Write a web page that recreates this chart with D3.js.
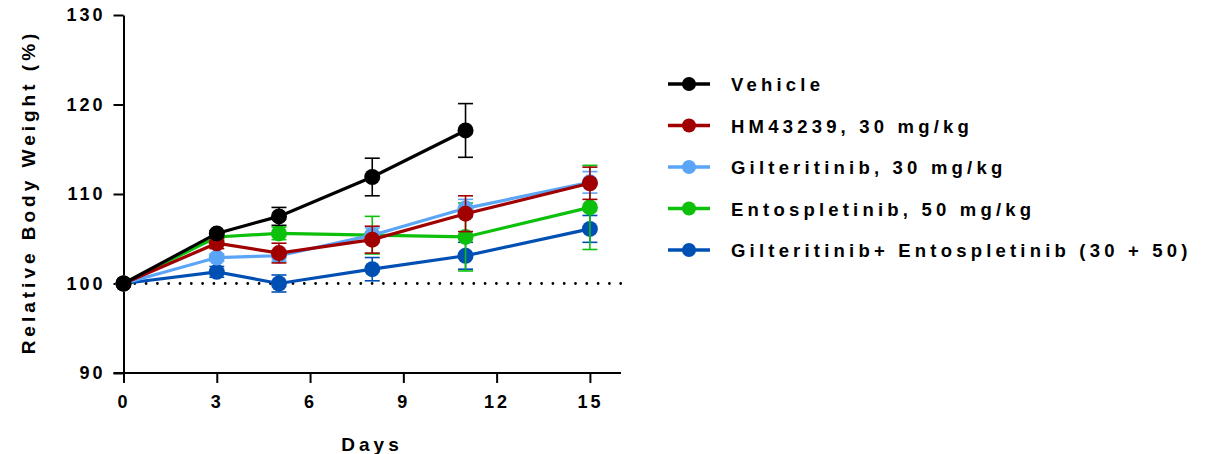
<!DOCTYPE html>
<html lang="en">
<head>
  <meta charset="UTF-8">
  <title>Relative Body Weight</title>
  <style>
    body { margin: 0; background: #fff; }
    text { font-family: Arial, "Liberation Sans", sans-serif; font-weight: bold; fill: #000; }
  </style>
</head>
<body>
  <svg id="chart" width="1206" height="454"></svg>
  <script src="https://cdn.jsdelivr.net/npm/d3@7/dist/d3.min.js"></script>
  <script>
    // data (mean, sem)
    var days = [0, 3, 5, 8, 11, 15];
    var names = ['Vehicle', 'HM43239, 30 mg/kg', 'Gilteritinib, 30 mg/kg',
      'Entospletinib, 50 mg/kg', 'Gilteritinib+ Entospletinib (30 + 50)'];
    var colors = ['#000000', '#a00000', '#5ba5f7', '#0cc00c', '#0050b4'];
    var vehicle = [100, 105.6, 107.5, 111.9, 117.1, null];
    var vehicleErr = [0, 0.3, 1.0, 2.1, 3.0, null];
    var hm = [100, 104.5, 103.4, 104.9, 107.8, 111.2];
    var hmErr = [0, 0.6, 1.1, 1.5, 2.0, 1.8];
    var gilt = [100, 102.9, 103.1, 105.4, 108.4, 111.3];
    var giltErr = [0, 0.4, 0.6, 0.8, 1.0, 1.2];
    var ento = [100, 105.2, 105.6, 105.4, 105.2, 108.5];
    var entoErr = [0, 0.4, 0.7, 2.1, 3.8, 4.7];
    var combo = [100, 101.3, 100.0, 101.6, 103.1, 106.1];
    var comboErr = [0, 0.6, 0.95, 1.3, 1.5, 1.5];
    var xTicks = [0, 3, 6, 9, 12, 15];
    var yTicks = [90, 100, 110, 120, 130];

    var series = [vehicle, hm, gilt, ento, combo];
    var errs = [vehicleErr, hmErr, giltErr, entoErr, comboErr];

    var svg = d3.select('#chart');
    var x = d3.scaleLinear().domain([0, 16]).range([123.5, 621]);
    var y = d3.scaleLinear().domain([90, 130]).range([373, 15]);

    // axes
    var gx = svg.append('g').attr('transform', 'translate(0,' + y(90) + ')')
      .call(d3.axisBottom(x).tickValues(xTicks).tickSize(10).tickPadding(12).tickSizeOuter(0));
    var gy = svg.append('g').attr('transform', 'translate(' + x(0) + ',0)')
      .call(d3.axisLeft(y).tickValues(yTicks).tickSize(10).tickPadding(8).tickSizeOuter(0));
    [gx, gy].forEach(function (g) {
      g.select('.domain').attr('stroke', '#000').attr('stroke-width', 2);
      g.selectAll('.tick line').attr('stroke', '#000').attr('stroke-width', 2);
      g.selectAll('.tick text')
        .style('font-family', 'Arial, "Liberation Sans", sans-serif')
        .style('font-weight', 'bold')
        .style('font-size', '18px')
        .style('letter-spacing', '3px')
        .attr('fill', '#000');
    });
    gx.select('.domain').attr('d', 'M' + (x(0) - 10) + ',0H' + x(16));

    // axis titles
    svg.append('text').attr('x', 372).attr('y', 451).attr('text-anchor', 'middle')
      .style('font-size', '19px').style('letter-spacing', '4px').text('Days');
    svg.append('text').attr('transform', 'translate(35,192) rotate(-90)').attr('text-anchor', 'middle')
      .style('font-size', '19px').style('letter-spacing', '4px').text('Relative Body Weight (%)');

    // dotted baseline at 100
    svg.append('line').attr('x1', x(0)).attr('x2', x(16)).attr('y1', y(100)).attr('y2', y(100))
      .attr('stroke', '#000').attr('stroke-width', 2.8).attr('stroke-linecap', 'round')
      .attr('stroke-dasharray', '0 11.3');

    var line = d3.line()
      .defined(function (d) { return d.v != null; })
      .x(function (d) { return x(d.day); })
      .y(function (d) { return y(d.v); });

    // draw the last series first so Vehicle ends on top
    for (var s = series.length - 1; s >= 0; s--) {
      var pts = days.map(function (d, i) { return { day: d, v: series[s][i], e: errs[s][i] }; })
        .filter(function (p) { return p.v != null; });
      var g = svg.append('g');
      var eb = g.selectAll('g.err').data(pts.filter(function (p) { return p.e > 0; })).enter().append('g')
        .attr('stroke', colors[s]).attr('stroke-width', 1.6);
      eb.append('line').attr('x1', function (p) { return x(p.day); }).attr('x2', function (p) { return x(p.day); })
        .attr('y1', function (p) { return y(p.v - p.e); }).attr('y2', function (p) { return y(p.v + p.e); });
      eb.append('line').attr('x1', function (p) { return x(p.day) - 7.5; }).attr('x2', function (p) { return x(p.day) + 7.5; })
        .attr('y1', function (p) { return y(p.v + p.e); }).attr('y2', function (p) { return y(p.v + p.e); });
      eb.append('line').attr('x1', function (p) { return x(p.day) - 7.5; }).attr('x2', function (p) { return x(p.day) + 7.5; })
        .attr('y1', function (p) { return y(p.v - p.e); }).attr('y2', function (p) { return y(p.v - p.e); });
      g.append('path').datum(pts).attr('d', line).attr('fill', 'none')
        .attr('stroke', colors[s]).attr('stroke-width', 3.2);
      g.selectAll('circle').data(pts).enter().append('circle')
        .attr('cx', function (p) { return x(p.day); })
        .attr('cy', function (p) { return y(p.v); })
        .attr('r', 8).attr('fill', colors[s]);
    }

    // legend
    var leg = svg.append('g').selectAll('g').data(names).enter().append('g')
      .attr('transform', function (d, i) { return 'translate(668,' + (84 + i * 41.5) + ')'; });
    leg.append('line').attr('x1', 0).attr('x2', 42).attr('stroke', function (d, i) { return colors[i]; })
      .attr('stroke-width', 3.5);
    leg.append('circle').attr('cx', 21).attr('r', 7).attr('fill', function (d, i) { return colors[i]; });
    leg.append('text').attr('x', 63).attr('y', 7).style('font-size', '18.5px').style('letter-spacing', '4.2px')
      .text(function (d) { return d; });
  </script>
</body>
</html>
